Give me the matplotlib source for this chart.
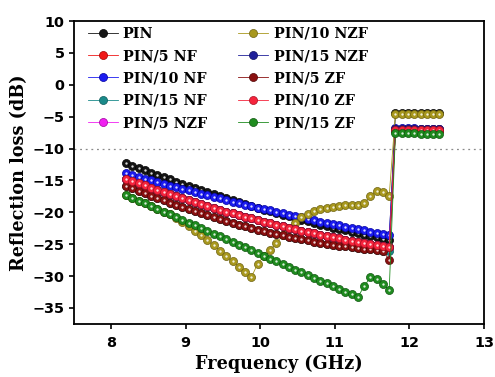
import matplotlib
matplotlib.use('Agg')
import matplotlib.pyplot as plt

# frequency grid (GHz), X-band sweep
freq = [8.200, 8.284, 8.368, 8.452, 8.536, 8.620, 8.704, 8.788, 8.872, 8.956,
        9.040, 9.124, 9.208, 9.292, 9.376, 9.460, 9.544, 9.628, 9.712, 9.796,
        9.880, 9.964, 10.048, 10.132, 10.216, 10.300, 10.384, 10.468, 10.552, 10.636,
        10.720, 10.804, 10.888, 10.972, 11.056, 11.140, 11.224, 11.308, 11.392, 11.476,
        11.560, 11.644, 11.728, 11.812, 11.896, 11.980, 12.064, 12.148, 12.232, 12.316,
        12.400]

# reflection loss (dB)
rl_pin = [-12.30, -12.68, -13.05, -13.42, -13.78, -14.14, -14.49, -14.84, -15.19, -15.53,
          -15.87, -16.20, -16.53, -16.85, -17.17, -17.48, -17.79, -18.10, -18.40, -18.70,
          -18.99, -19.28, -19.56, -19.84, -20.12, -20.39, -20.65, -20.91, -21.17, -21.42,
          -21.67, -21.92, -22.15, -22.39, -22.62, -22.85, -23.07, -23.28, -23.50, -23.71,
          -23.91, -24.11, -24.30, -4.4, -4.4, -4.4, -4.4, -4.4, -4.4, -4.4,
          -4.4]
rl_5nf = [-14.70, -15.06, -15.42, -15.78, -16.13, -16.47, -16.81, -17.14, -17.47, -17.79,
          -18.10, -18.42, -18.72, -19.02, -19.32, -19.61, -19.89, -20.17, -20.44, -20.71,
          -20.97, -21.23, -21.48, -21.73, -21.97, -22.21, -22.44, -22.66, -22.88, -23.10,
          -23.30, -23.51, -23.71, -23.90, -24.09, -24.27, -24.45, -24.62, -24.78, -24.95,
          -25.10, -25.25, -25.39, -7.0, -7.0, -7.0, -7.0, -7.1, -7.1, -7.1,
          -7.1]
rl_10nf = [-13.90, -14.18, -14.45, -14.73, -15.00, -15.27, -15.53, -15.80, -16.06, -16.32,
           -16.57, -16.83, -17.08, -17.33, -17.58, -17.83, -18.07, -18.31, -18.55, -18.79,
           -19.02, -19.25, -19.48, -19.71, -19.94, -20.16, -20.38, -20.60, -20.81, -21.03,
           -21.24, -21.45, -21.66, -21.86, -22.06, -22.26, -22.46, -22.66, -22.85, -23.04,
           -23.23, -23.42, -23.60, -6.8, -6.8, -6.8, -6.8, -6.9, -6.9, -6.9,
           -6.9]
rl_15nf = [-15.80, -16.21, -16.61, -17.01, -17.39, -17.77, -18.14, -18.50, -18.85, -19.20,
           -19.53, -19.86, -20.18, -20.50, -20.80, -21.10, -21.39, -21.67, -21.94, -22.21,
           -22.46, -22.71, -22.95, -23.19, -23.41, -23.63, -23.84, -24.04, -24.23, -24.41,
           -24.59, -24.76, -24.92, -25.07, -25.21, -25.35, -25.48, -25.60, -25.71, -25.81,
           -25.91, -26.00, -26.10, -7.0, -7.0, -7.0, -7.0, -7.0, -7.0, -7.0,
           -7.0]
rl_5nzf = [-14.70, -15.06, -15.42, -15.78, -16.13, -16.47, -16.81, -17.14, -17.47, -17.79,
           -18.10, -18.42, -18.72, -19.02, -19.32, -19.61, -19.89, -20.17, -20.44, -20.71,
           -20.97, -21.23, -21.48, -21.73, -21.97, -22.21, -22.44, -22.66, -22.88, -23.10,
           -23.30, -23.51, -23.71, -23.90, -24.09, -24.27, -24.45, -24.62, -24.78, -24.95,
           -25.10, -25.25, -25.39, -6.9, -6.9, -6.9, -6.9, -6.9, -6.9, -6.9,
           -6.9]
rl_10nzf = [-17.30, -17.73, -18.17, -18.60, -19.03, -19.46, -19.90, -20.33, -20.90, -21.50,
            -22.20, -22.90, -23.60, -24.40, -25.20, -26.00, -26.90, -27.70, -28.60, -29.40,
            -30.20, -28.10, -26.90, -25.90, -24.80, -23.60, -22.50, -21.60, -20.80, -20.20,
            -19.80, -19.50, -19.30, -19.10, -19.00, -18.90, -18.80, -18.80, -18.60, -17.40,
            -16.60, -16.80, -17.40, -4.5, -4.5, -4.5, -4.5, -4.5, -4.5, -4.5,
            -4.5]
rl_15nzf = [-14.70, -15.06, -15.42, -15.78, -16.13, -16.47, -16.81, -17.14, -17.47, -17.79,
            -18.10, -18.42, -18.72, -19.02, -19.32, -19.61, -19.89, -20.17, -20.44, -20.71,
            -20.97, -21.23, -21.48, -21.73, -21.97, -22.21, -22.44, -22.66, -22.88, -23.10,
            -23.30, -23.51, -23.71, -23.90, -24.09, -24.27, -24.45, -24.62, -24.78, -24.95,
            -25.10, -25.25, -25.39, -6.9, -6.9, -6.9, -6.9, -6.9, -6.9, -6.9,
            -6.9]
rl_5zf = [-15.80, -16.21, -16.61, -17.01, -17.39, -17.77, -18.14, -18.50, -18.85, -19.20,
          -19.53, -19.86, -20.18, -20.50, -20.80, -21.10, -21.39, -21.67, -21.94, -22.21,
          -22.46, -22.71, -22.95, -23.19, -23.41, -23.63, -23.84, -24.04, -24.23, -24.41,
          -24.59, -24.76, -24.92, -25.07, -25.21, -25.35, -25.48, -25.60, -25.71, -25.81,
          -25.91, -26.00, -27.50, -7.2, -7.2, -7.2, -7.2, -7.2, -7.2, -7.2,
          -7.2]
rl_10zf = [-14.70, -15.06, -15.42, -15.78, -16.13, -16.47, -16.81, -17.14, -17.47, -17.79,
           -18.10, -18.42, -18.72, -19.02, -19.32, -19.61, -19.89, -20.17, -20.44, -20.71,
           -20.97, -21.23, -21.48, -21.73, -21.97, -22.21, -22.44, -22.66, -22.88, -23.10,
           -23.30, -23.51, -23.71, -23.90, -24.09, -24.27, -24.45, -24.62, -24.78, -24.95,
           -25.10, -25.25, -25.39, -7.1, -7.1, -7.1, -7.1, -7.1, -7.1, -7.1,
           -7.1]
rl_15zf = [-17.30, -17.73, -18.17, -18.60, -19.03, -19.46, -19.90, -20.33, -20.76, -21.19,
           -21.63, -22.06, -22.49, -22.92, -23.36, -23.79, -24.22, -24.65, -25.09, -25.52,
           -25.95, -26.38, -26.82, -27.25, -27.68, -28.11, -28.55, -28.98, -29.41, -29.85,
           -30.28, -30.71, -31.14, -31.58, -32.01, -32.44, -32.87, -33.30, -31.60, -30.20,
           -30.50, -31.30, -32.20, -7.6, -7.6, -7.6, -7.6, -7.7, -7.7, -7.7,
           -7.7]

labels = ['PIN', 'PIN/5 NF', 'PIN/10 NF', 'PIN/15 NF', 'PIN/5 NZF',
          'PIN/10 NZF', 'PIN/15 NZF', 'PIN/5 ZF', 'PIN/10 ZF', 'PIN/15 ZF']
series = [rl_pin, rl_5nf, rl_10nf, rl_15nf, rl_5nzf,
          rl_10nzf, rl_15nzf, rl_5zf, rl_10zf, rl_15zf]
colors = ['#151515', '#f01818', '#1c1cf0', '#1a8a8a', '#f020f0',
          '#a8981e', '#20209a', '#8a1010', '#f5243c', '#1f8c1f']
edges = ['#000000', '#a00000', '#0000a0', '#0c5a5a', '#a000a0',
         '#6e6210', '#10105e', '#500505', '#a80f22', '#0e560e']

fig = plt.figure(figsize=(4.95, 3.77), dpi=100)
ax = fig.add_axes([0.149, 0.141, 0.829, 0.803])

handles = []
for y, lab, c, ec in zip(series, labels, colors, edges):
    h, = ax.plot(freq, y, '-', color=c, lw=0.6, marker='o', ms=5.8,
                 mfc=c, mec=ec, mew=0.5, label=lab)
    # glossy highlight
    ax.plot(freq, y, 'o', ms=1.7, color='white', alpha=0.85, mew=0)
    handles.append(h)

ax.axhline(-10, color='#8a8a8a', ls=(0, (1.5, 3)), lw=0.9, zorder=0)

ax.set_xlim(7.5, 13)
ax.set_ylim(-37.5, 10)
ax.set_xticks([8, 9, 10, 11, 12, 13])
ax.set_yticks(range(-35, 11, 5))

for sp in ax.spines.values():
    sp.set_linewidth(1.3)
ax.tick_params(direction='out', length=3.5, width=1.2, labelsize=10.4)
ax.tick_params(axis='x', pad=5)
ax.tick_params(axis='y', pad=3)
for t in ax.get_xticklabels() + ax.get_yticklabels():
    t.set_fontweight('bold')

lab_font = dict(family='DejaVu Serif', weight='bold', size=12.7)
ax.set_xlabel('Frequency (GHz)', fontdict=lab_font, labelpad=4)
ax.set_ylabel('Reflection loss (dB)', fontdict=lab_font, labelpad=3)

ax.legend(handles=handles, ncol=2, loc='upper left', bbox_to_anchor=(0.02, 1.0),
          frameon=False, numpoints=1, handlelength=2.1, handletextpad=0.35,
          labelspacing=0.58, columnspacing=2.2, borderaxespad=0.0,
          prop=dict(family='DejaVu Serif', weight='bold', size=10.3))

fig.savefig('out.png', dpi=100)
